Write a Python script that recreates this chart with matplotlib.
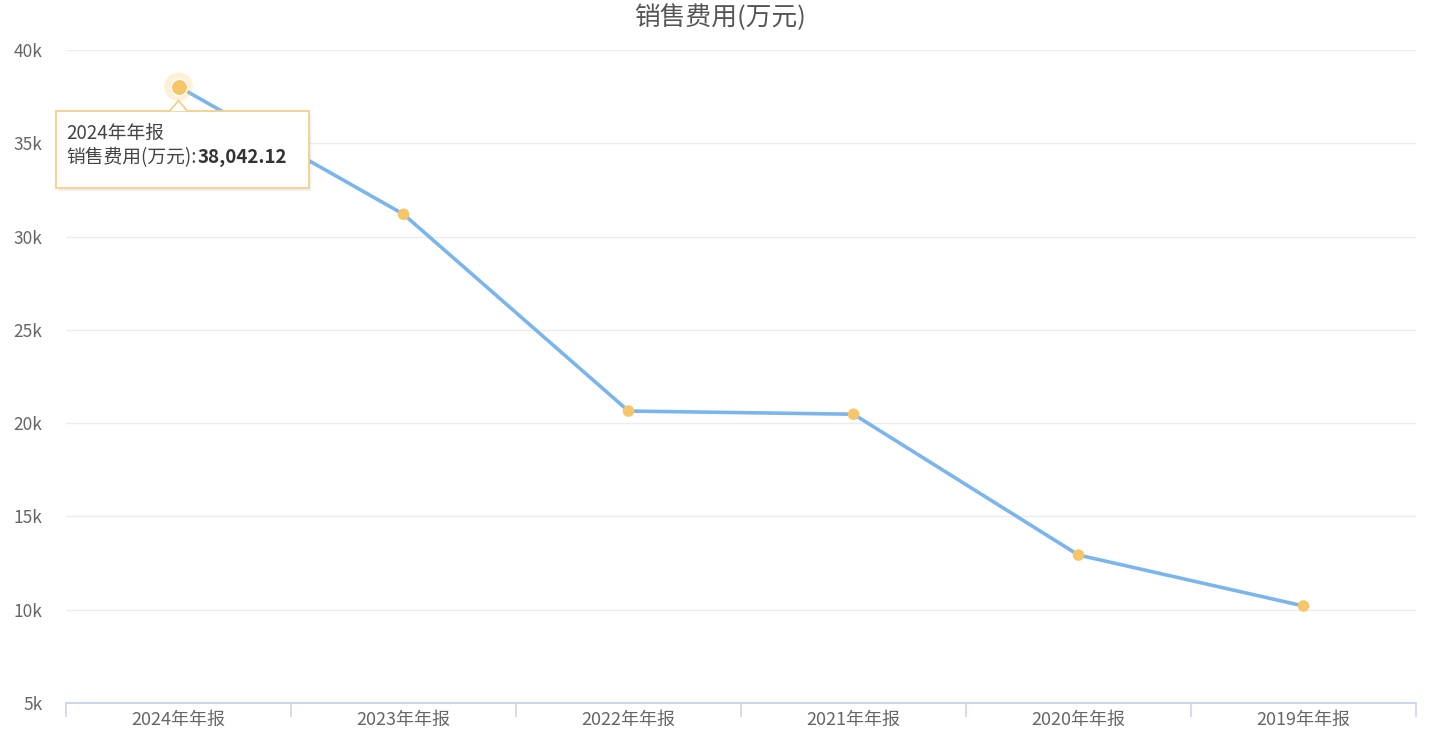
import matplotlib.pyplot as plt
from matplotlib.patches import Rectangle, Polygon
import numpy as np

plt.rcParams['font.family'] = ['Noto Sans CJK SC', 'DejaVu Sans']

categories = ['2024年年报', '2023年年报', '2022年年报', '2021年年报', '2020年年报', '2019年年报']
sales_cost = [38042.12, 31200, 20650, 20480, 12930, 10200]
title = '销售费用(万元)'
y_ticks = [5000, 10000, 15000, 20000, 25000, 30000, 35000, 40000]
y_labels = ['5k', '10k', '15k', '20k', '25k', '30k', '35k', '40k']

line_color = '#7cb5ec'
marker_color = '#f7c56a'
text_color = '#666666'

fig = plt.figure(figsize=(14.39, 7.48), dpi=100)
ax = fig.add_axes([0.0459, 0.0602, 0.9381, 0.8728])

x = np.arange(len(categories))
ax.plot(x, sales_cost, color=line_color, lw=2.6, zorder=3, solid_capstyle='round')
ax.scatter(x, sales_cost, s=70, color=marker_color, zorder=4, edgecolors='none')
# hovered point halo
ax.scatter(x[:1], sales_cost[:1], s=420, color=marker_color, alpha=0.25, zorder=4, edgecolors='none')
ax.scatter(x[:1], sales_cost[:1], s=140, color=marker_color, zorder=5, edgecolors='white', linewidths=1)

ax.set_xlim(-0.5, len(categories) - 0.5)
ax.set_ylim(5000, 40000)
ax.set_yticks(y_ticks)
ax.set_yticklabels(y_labels)
ax.set_xticks(x)
ax.set_xticklabels(categories)
ax.set_xticks(np.arange(-0.5, len(categories)), minor=True)
ax.tick_params(axis='x', which='major', length=0, pad=6, labelsize=13, labelcolor=text_color)
ax.tick_params(axis='x', which='minor', length=10, color='#ccd6eb', width=1.2, direction='out')
ax.tick_params(axis='y', length=0, pad=17, labelsize=12.5, labelcolor=text_color)

ax.grid(axis='y', color='#ececec', lw=1)
ax.set_axisbelow(True)
for s in ['top', 'right', 'left']:
    ax.spines[s].set_visible(False)
ax.spines['bottom'].set_color('#ccd6eb')
ax.spines['bottom'].set_linewidth(1.4)

fig.text(0.5, 0.977, title, ha='center', va='center', fontsize=18.5, color='#555555')

# tooltip anchored at the first point
px, py = ax.transData.transform((x[0], sales_cost[0]))
inv = fig.transFigure.inverted()

def fig_xy(dx, dy):
    return inv.transform((px + dx, py + dy))

box_l, box_r, box_t, box_b = -123, 130, -24, -101
(fl, fb) = fig_xy(box_l, box_b)
(fr, ft) = fig_xy(box_r, box_t)
fig.patches.append(Rectangle((fl + 0.002, fb - 0.004), fr - fl, ft - fb, transform=fig.transFigure,
                             facecolor='#000000', alpha=0.06, edgecolor='none', zorder=6))
fig.patches.append(Rectangle((fl, fb), fr - fl, ft - fb, transform=fig.transFigure,
                             facecolor='white', edgecolor='#f5cf8a', lw=1.3, zorder=7))
tri = [fig_xy(-9, box_t - 0.5), fig_xy(0, box_t + 10), fig_xy(9, box_t - 0.5)]
fig.patches.append(Polygon(tri, closed=False, transform=fig.transFigure,
                           facecolor='white', edgecolor='#f5cf8a', lw=1.3, zorder=8))
tx, ty = fig_xy(-112, -47)
fig.text(tx, ty, categories[0], fontsize=13.5, color='#444444', va='center', ha='left', zorder=9)
tx2, ty2 = fig_xy(-112, -71)
lbl = fig.text(tx2, ty2, title + ':', fontsize=13.5, color='#444444', va='center', ha='left', zorder=9)
fig.canvas.draw()
bb = lbl.get_window_extent()
vx = inv.transform((bb.x1 + 1, 0))[0]
fig.text(vx, ty2, f'{sales_cost[0]:,.2f}', fontsize=13.5, color='#333333', fontweight='bold',
         va='center', ha='left', zorder=9)

fig.savefig('out.png', dpi=100, facecolor='white')
